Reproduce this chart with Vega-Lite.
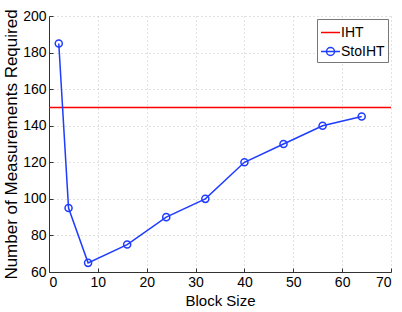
{
  "$schema": "https://vega.github.io/schema/vega-lite/v6.json",
  "width": 342,
  "height": 256,
  "autosize": {"type": "none"},
  "padding": {"left": 49, "top": 16, "right": 11, "bottom": 40},
  "background": "white",
  "config": {
    "font": "Liberation Sans",
    "view": {"stroke": null},
    "axis": {
      "domainColor": "#333333",
      "domainWidth": 1,
      "tickColor": "#333333",
      "tickSize": -4,
      "labelFont": "Liberation Sans",
      "labelFontSize": 14,
      "labelColor": "black",
      "titleFont": "Liberation Sans",
      "titleFontSize": 15,
      "titleFontWeight": "normal",
      "titleColor": "black",
      "gridColor": "#c4c4c4",
      "gridDash": [1, 3],
      "gridWidth": 1
    }
  },
  "data": {
    "values": [
      {"series": "IHT", "block": null, "m": 150},
      {"series": "StoIHT", "block": 2, "m": 185},
      {"series": "StoIHT", "block": 4, "m": 95},
      {"series": "StoIHT", "block": 8, "m": 65},
      {"series": "StoIHT", "block": 16, "m": 75},
      {"series": "StoIHT", "block": 24, "m": 90},
      {"series": "StoIHT", "block": 32, "m": 100},
      {"series": "StoIHT", "block": 40, "m": 120},
      {"series": "StoIHT", "block": 48, "m": 130},
      {"series": "StoIHT", "block": 56, "m": 140},
      {"series": "StoIHT", "block": 64, "m": 145}
    ]
  },
  "encoding": {
    "y": {
      "field": "m",
      "type": "quantitative",
      "scale": {"domain": [60, 200], "nice": false, "zero": false},
      "axis": {"title": "Number of Measurements Required", "titleFontSize": 17, "values": [60, 80, 100, 120, 140, 160, 180, 200], "labelPadding": 7, "titlePadding": 2}
    },
    "color": {
      "field": "series",
      "type": "nominal",
      "scale": {"domain": ["IHT", "StoIHT"], "range": ["#ff0000", "#1f3cff"]},
      "legend": {
        "title": null,
        "orient": "top-right",
        "offset": 3,
        "padding": 3,
        "fillColor": "white",
        "strokeColor": "#777777",
        "labelFontSize": 14,
        "labelColor": "black",
        "labelOffset": 0,
        "symbolSize": 361,
        "rowPadding": 1,
        "encode": {
          "symbols": {
            "update": {
              "shape": {"signal": "datum.value === 'IHT' ? 'M-1,0H1' : 'M-1,0H1M0.42,0A0.42,0.42 0 1,1 -0.42,0A0.42,0.42 0 1,1 0.42,0'"},
              "fill": {"value": "transparent"},
              "strokeWidth": {"value": 1.5}
            }
          }
        }
      }
    }
  },
  "layer": [
    {
      "transform": [{"filter": "datum.series === 'IHT'"}],
      "mark": {"type": "rule", "strokeWidth": 1.5}
    },
    {
      "transform": [{"filter": "datum.series === 'StoIHT'"}],
      "mark": {"type": "line", "strokeWidth": 1.5},
      "encoding": {
        "x": {
          "field": "block",
          "type": "quantitative",
          "scale": {"domain": [0, 70], "nice": false},
          "axis": {"title": "Block Size", "values": [0, 10, 20, 30, 40, 50, 60, 70], "labelPadding": 7, "titlePadding": 4}
        }
      }
    },
    {
      "transform": [{"filter": "datum.series === 'StoIHT'"}],
      "mark": {"type": "point", "shape": "circle", "filled": false, "size": 50, "strokeWidth": 1.5, "opacity": 1},
      "encoding": {
        "x": {"field": "block", "type": "quantitative"}
      }
    }
  ]
}
